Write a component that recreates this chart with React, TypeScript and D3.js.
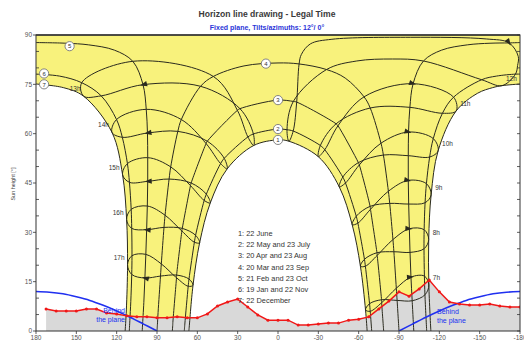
import { useEffect, useRef } from 'react'
import * as d3 from 'd3'

type Pt = [number, number]

const W = 524
const H = 342
const M = { top: 35, right: 4, bottom: 11, left: 36 }
const IW = W - M.left - M.right
const IH = H - M.top - M.bottom
const FONT = '"Liberation Sans", Arial, sans-serif'

const X_TICKS = [180, 150, 120, 90, 60, 30, 0, -30, -60, -90, -120, -150, -180]
const Y_TICKS = [0, 15, 30, 45, 60, 75, 90]

const LEGEND = [
  '1: 22 June',
  '2: 22 May and 23 July',
  '3: 20 Apr and 23 Aug',
  '4: 20 Mar and 23 Sep',
  '5: 21 Feb and 23 Oct',
  '6: 19 Jan and 22 Nov',
  '7: 22 December',
]
const HOUR_NAMES = ['7h', '8h', '9h', '10h', '11h', '12h', '13h', '14h', '15h', '16h', '17h', '18h']

// sun position [azimuth °, height °] at 7h, 8h … 18h legal time
const JUN22: Pt[] = [[-65.1, 6.4], [-61.3, 19.7], [-55.2, 32.3], [-45.6, 43.8], [-30.0, 53.0], [-8.1, 57.7], [18.1, 56.4], [37.8, 49.3], [50.4, 38.9], [58.3, 26.8], [63.2, 13.9], [66.2, 0.4]]
const JUL23: Pt[] = [[-68.6, 6.0], [-65.0, 19.7], [-59.4, 32.8], [-50.2, 45.0], [-34.8, 55.1], [-11.3, 60.8], [18.3, 59.9], [40.0, 52.5], [53.3, 41.6], [61.3, 29.1], [66.2, 15.8], [69.3, 2.1]]
const MAY22: Pt[] = [[-68.1, 8.3], [-64.3, 21.8], [-58.2, 34.9], [-48.2, 46.8], [-31.5, 56.4], [-6.7, 61.2], [22.4, 59.0], [42.7, 50.9], [54.9, 39.7], [62.2, 27.0], [66.8, 13.6], [69.7, -0.2]]
const AUG23: Pt[] = [[-77.1, 8.6], [-73.8, 23.0], [-68.8, 37.0], [-60.5, 50.5], [-44.6, 62.4], [-13.9, 69.6], [28.3, 67.6], [52.6, 57.7], [64.6, 45.0], [71.2, 31.2], [75.4, 17.0], [78.2, 2.6]]
const APR20: Pt[] = [[-77.0, 9.5], [-73.6, 23.8], [-68.5, 37.9], [-59.8, 51.2], [-43.2, 63.0], [-11.4, 69.8], [30.2, 67.1], [53.5, 57.0], [65.1, 44.2], [71.5, 30.4], [75.5, 16.2], [78.3, 1.7]]
const SEP23: Pt[] = [[-88.0, 13.0], [-85.5, 27.8], [-82.1, 42.5], [-76.6, 57.1], [-64.0, 71.2], [-15.7, 81.2], [57.6, 74.4], [74.5, 60.7], [81.0, 46.2], [84.8, 31.5], [87.4, 16.7], [89.7, 1.9]]
const MAR20: Pt[] = [[-88.6, 9.3], [-86.2, 24.1], [-83.1, 38.8], [-78.4, 53.5], [-68.6, 67.8], [-36.1, 79.5], [48.1, 77.4], [71.9, 64.3], [79.8, 49.9], [84.0, 35.2], [86.8, 20.4], [89.2, 5.6]]
const OCT23: Pt[] = [[-98.9, 16.4], [-97.7, 31.1], [-96.9, 45.8], [-97.1, 60.5], [-100.5, 75.2], [-171.9, 87.6], [100.4, 74.9], [97.1, 60.2], [96.9, 45.5], [97.7, 30.8], [99.0, 16.1], [100.8, 1.5]]
const FEB21: Pt[] = [[-99.8, 9.2], [-98.2, 23.9], [-97.2, 38.6], [-96.9, 53.3], [-98.1, 68.0], [-108.2, 82.1], [108.0, 82.0], [98.0, 67.4], [96.9, 52.7], [97.2, 38.0], [98.3, 23.3], [99.8, 8.6]]
const NOV22: Pt[] = [[-108.9, 16.7], [-108.7, 30.8], [-110.4, 44.8], [-115.5, 58.5], [-130.6, 71.1], [-176.6, 78.1], [131.5, 71.5], [115.8, 58.9], [110.5, 45.2], [108.8, 31.2], [108.8, 17.2], [110.2, 3.2]]
const JAN19: Pt[] = [[-109.3, 11.0], [-108.6, 25.0], [-109.4, 39.0], [-112.8, 52.9], [-122.3, 66.2], [-151.5, 76.4], [146.0, 75.5], [120.1, 64.3], [112.0, 50.9], [109.2, 37.0], [108.6, 22.9], [109.5, 8.9]]
const DEC22: Pt[] = [[-112.2, 14.0], [-112.1, 27.8], [-113.9, 41.4], [-119.1, 54.8], [-132.5, 66.9], [-166.6, 74.6], [144.6, 71.4], [123.5, 60.4], [115.6, 47.5], [112.6, 33.9], [111.9, 20.2], [112.8, 6.4]]

// loop order through the year, June → May
const LOOP_DATES = [JUN22, JUL23, AUG23, SEP23, OCT23, NOV22, DEC22, JAN19, FEB21, MAR20, APR20, MAY22]

// 12h passes near the zenith, so its loop has a few more dates
const NOON_LOOP: Pt[] = [[-8.1, 57.7], [-11.3, 60.8], [-13.9, 69.6], [-15.7, 81.2], [-17.4, 84.1], [-24.1, 87.3], [-40.1, 88.7], [-98.4, 89.3], [-154.9, 88.8], [-171.9, 87.6], [-178.7, 83.5], [-178.2, 80.7], [-176.6, 78.1], [-166.6, 74.6], [-151.5, 76.4], [-108.2, 82.1], [-85.1, 82.7], [-58.6, 82.1], [-36.1, 79.5], [-11.4, 69.8], [-6.7, 61.2]]

// date curves 1..7: sunrise / sunset azimuths and extra points [slot, az, h] near noon
const SUNRISE = [-66.3, -69.7, -78.6, -90.0, -101.0, -110.6, -113.7]
const SUNSET = [66.3, 69.7, 78.6, 90.0, 101.0, 110.6, 113.7]
const C1_EXTRA = [[10.5, 0, 58.1]]
const C2_EXTRA = [[11.5, 0, 61.4]]
const C3_EXTRA = [[11.5, 0, 70.2]]
const C4_EXTRA = [[9.5, -50.0, 76.9], [11.3, 0, 81.5], [11.6, 25.3, 80.6]]
const C5_EXTRA = [[10.2, -121.7, 85.4], [10.4, -140.8, 87.0], [10.6, -157.7, 87.5], [11.3, -180, 87.7], [11.4, 180, 87.7], [11.5, 157.7, 87.5], [11.6, 140.8, 87.0], [11.7, 121.7, 85.4]]
const C6_EXTRA = [[10.5, -162.4, 77.5], [11.3, -180, 78.1], [11.4, 180, 78.1], [11.6, 162.4, 77.5]]
const C7_EXTRA = [[9, -148.5, 72.3], [9.5, -159.7, 74.0], [10.3, -180, 75.1], [10.4, 180, 75.1], [10.6, 159.7, 74.0]]

// curve number badges
const BADGE_POS: Pt[] = [[0, 58.1], [0, 61.4], [0, 70.2], [9, 81.3], [155, 86.6], [174, 78.3], [174, 75.0]]

// far horizon
const HORIZON_AZ = [172.5, 165, 157.5, 150, 142.5, 135, 127.5, 120, 112.5, 105, 97.5, 90, 82.5, 75, 67.5, 60, 52.5, 45, 37.5, 30, 22.5, 15, 7.5, 0, -7.5, -15, -22.5, -30, -37.5, -45, -52.5, -60, -67.5, -75, -82.5, -90, -97.5, -105, -112.5, -120, -127.5, -135, -142.5, -150, -157.5, -165, -172.5, -180]
const HORIZON_H = [6.7, 6.1, 6.1, 6.1, 6.7, 6.7, 5.5, 5.2, 4.6, 4.3, 4.3, 4.0, 4.0, 4.3, 4.0, 4.0, 5.2, 7.6, 8.8, 9.7, 7.3, 4.9, 3.3, 3.3, 3.3, 1.8, 1.8, 2.1, 2.4, 2.4, 3.3, 3.6, 4.3, 6.7, 9.1, 11.9, 10.6, 12.8, 15.5, 11.9, 8.8, 8.2, 7.9, 7.9, 8.2, 7.6, 7.3, 7.3]

// limit "behind the plane"
const BEHIND_AZ_L = [180, 170, 160, 150, 140, 130, 120, 110, 100, 90]
const BEHIND_AZ_R = [-90, -100, -110, -120, -130, -140, -150, -160, -170, -180]
const BEHIND_H_L = [12.0, 11.8, 11.3, 10.4, 9.3, 7.8, 6.1, 4.2, 2.1, 0]
const BEHIND_H_R = [0, 2.1, 4.2, 6.1, 7.8, 9.3, 10.4, 11.3, 11.8, 12.0]

function splitWrap(pts: Pt[]): Pt[][] {
  const segs: Pt[][] = [[pts[0]]]
  for (let i = 1; i < pts.length; i++) {
    if (Math.abs(pts[i][0] - pts[i - 1][0]) > 180) segs.push([])
    segs[segs.length - 1].push(pts[i])
  }
  return segs
}

function buildCurve(a: Pt[], b: Pt[] | null, extra: number[][], rise: number, set: number): Pt[] {
  const items: { s: number; p: Pt }[] = [{ s: -1, p: [rise, 0] }, { s: 99, p: [set, 0] }]
  a.forEach((p, i) => items.push({ s: 2 * i, p }))
  if (b) b.forEach((p, i) => items.push({ s: 2 * i + 1, p }))
  extra.forEach((e) => items.push({ s: e[0], p: [e[1], e[2]] }))
  return items.filter((d) => d.p[1] >= 0).sort((u, v) => u.s - v.s).map((d) => d.p)
}

export default function App() {
  const svgRef = useRef<SVGSVGElement>(null)

  useEffect(() => {
    const svg = d3.select(svgRef.current)
    svg.selectAll('*').remove()

    const x = d3.scaleLinear().domain([180, -180]).range([M.left, M.left + IW])
    const y = d3.scaleLinear().domain([0, 90]).range([M.top + IH, M.top])
    const line = d3.line<Pt>().x((d) => x(d[0])).y((d) => y(d[1])).curve(d3.curveCatmullRom.alpha(0.5))
    const loop = d3.line<Pt>().x((d) => x(d[0])).y((d) => y(d[1])).curve(d3.curveCatmullRomClosed.alpha(0.5))

    svg.append('rect').attr('width', W).attr('height', H).attr('fill', '#fff')

    // ── titles ──
    svg.append('text').attr('x', 267).attr('y', 17).attr('text-anchor', 'middle')
      .attr('font-family', FONT).attr('font-size', 8.6).attr('font-weight', 700).attr('fill', '#3a3a3a')
      .text('Horizon line drawing - Legal Time')
    svg.append('text').attr('x', 267).attr('y', 30).attr('text-anchor', 'middle')
      .attr('font-family', FONT).attr('font-size', 7).attr('font-weight', 700).attr('fill', '#2b35d8')
      .text('Fixed plane, Tilts/azimuths: 12°/ 0°')

    svg.append('defs').append('clipPath').attr('id', 'plot')
      .append('rect').attr('x', M.left).attr('y', M.top).attr('width', IW).attr('height', IH)
    const g = svg.append('g').attr('clip-path', 'url(#plot)')

    const curves = [
      buildCurve(JUN22, null, C1_EXTRA, SUNRISE[0], SUNSET[0]),
      buildCurve(JUL23, MAY22, C2_EXTRA, SUNRISE[1], SUNSET[1]),
      buildCurve(AUG23, APR20, C3_EXTRA, SUNRISE[2], SUNSET[2]),
      buildCurve(MAR20, SEP23, C4_EXTRA, SUNRISE[3], SUNSET[3]),
      buildCurve(FEB21, OCT23, C5_EXTRA, SUNRISE[4], SUNSET[4]),
      buildCurve(JAN19, NOV22, C6_EXTRA, SUNRISE[5], SUNSET[5]),
      buildCurve(DEC22, null, C7_EXTRA, SUNRISE[6], SUNSET[6]),
    ]

    // ── yellow sun area between 22 June and 22 December ──
    const [decAm, decPm] = splitWrap(curves[6])
    const join = (s: string | null) => (s ?? '').replace(/^M/, 'L')
    const area = `M${x(180)},${y(90)}` + join(line(decPm)) + join(line([...curves[0]].reverse()))
      + join(line(decAm)) + `L${x(-180)},${y(90)}Z`
    g.append('path').attr('d', area).attr('fill', '#f8f27c')

    // ── horizon (grey) ──
    const hor: Pt[] = HORIZON_AZ.map((a, i) => [a, HORIZON_H[i]])
    g.append('path').datum(hor)
      .attr('d', d3.area<Pt>().x((d) => x(d[0])).y0(y(0)).y1((d) => y(d[1])))
      .attr('fill', '#d9d9d9')

    // ── date curves ──
    curves.forEach((c) => {
      splitWrap(c).forEach((seg) => {
        g.append('path').attr('d', line(seg)).attr('fill', 'none')
          .attr('stroke', '#2a2a1e').attr('stroke-width', 1)
      })
    })

    // ── hour loops ──
    const loops: Pt[][] = HOUR_NAMES.slice(0, 11).map((_, i) =>
      i === 5 ? NOON_LOOP : LOOP_DATES.map((d) => d[i]))
    loops.forEach((pts) => {
      g.append('path').attr('d', loop(pts)).attr('fill', 'none')
        .attr('stroke', '#2a2a1e').attr('stroke-width', 1)
      const k = pts === NOON_LOOP ? 9 : 4
      const p = pts[k], q = pts[(k + 1) % pts.length]
      const ang = Math.atan2(y(q[1]) - y(p[1]), x(q[0]) - x(p[0])) * 180 / Math.PI
      g.append('path').attr('d', 'M3,0 L-4,-2.6 L-4,2.6 Z')
        .attr('transform', `translate(${x(p[0])},${y(p[1])}) rotate(${ang})`)
        .attr('fill', '#2a2a1e')
    })

    // ── behind the plane ──
    ;[[BEHIND_AZ_L, BEHIND_H_L], [BEHIND_AZ_R, BEHIND_H_R]].forEach(([az, h]) => {
      const pts: Pt[] = az.map((a, i) => [a, h[i]])
      g.append('path').attr('d', d3.line<Pt>().x((d) => x(d[0])).y((d) => y(d[1])).curve(d3.curveMonotoneX)(pts))
        .attr('fill', 'none').attr('stroke', '#2030f0').attr('stroke-width', 1.6)
    })

    // ── horizon line ──
    g.append('path').datum(hor)
      .attr('d', d3.line<Pt>().x((d) => x(d[0])).y((d) => y(d[1])))
      .attr('fill', 'none').attr('stroke', '#f01818').attr('stroke-width', 1.5)
    g.selectAll('circle.hz').data(hor).enter().append('circle')
      .attr('cx', (d) => x(d[0])).attr('cy', (d) => y(d[1])).attr('r', 1.5).attr('fill', '#f01818')

    // ── texts in the plot ──
    const txt = (tx: number, ty: number, s: string, anchor: string, size: number, fill: string) =>
      svg.append('text').attr('x', tx).attr('y', ty).attr('text-anchor', anchor)
        .attr('font-family', FONT).attr('font-size', size).attr('fill', fill).text(s)

    HOUR_NAMES.slice(0, 11).forEach((hn, i) => {
      const p = DEC22[i]
      const left = p[0] > 0
      txt(x(p[0]) + (left ? -3 : 4), y(p[1]) - 5, hn, left ? 'end' : 'start', 6.5, '#333')
    })

    BADGE_POS.forEach((p, i) => {
      svg.append('circle').attr('cx', x(p[0])).attr('cy', y(p[1])).attr('r', 4.6)
        .attr('fill', '#fff').attr('stroke', '#777').attr('stroke-width', 0.9)
      txt(x(p[0]), y(p[1]) + 2.2, String(i + 1), 'middle', 6, '#333')
    })

    LEGEND.forEach((s, i) => txt(238, 236 + i * 11.2, s, 'start', 7.4, '#333'))

    txt(125, 313, 'Behind', 'end', 7, '#2030f0')
    txt(125, 322, 'the plane', 'end', 7, '#2030f0')
    txt(437, 314, 'Behind', 'start', 7, '#2030f0')
    txt(437, 323, 'the plane', 'start', 7, '#2030f0')

    // ── frame & axes ──
    svg.append('rect').attr('x', M.left).attr('y', M.top).attr('width', IW).attr('height', IH)
      .attr('fill', 'none').attr('stroke', '#333').attr('stroke-width', 1)
    svg.append('line').attr('x1', M.left).attr('x2', M.left + IW).attr('y1', M.top).attr('y2', M.top)
      .attr('stroke', '#333').attr('stroke-width', 1.6)

    d3.range(0, 91, 5).forEach((v) => {
      const major = v % 15 === 0
      svg.append('line').attr('x1', M.left - (major ? 3 : 0)).attr('x2', M.left + (major ? 0 : 3))
        .attr('y1', y(v)).attr('y2', y(v)).attr('stroke', '#333').attr('stroke-width', 0.8)
      svg.append('line').attr('x1', M.left + IW - 3).attr('x2', M.left + IW)
        .attr('y1', y(v)).attr('y2', y(v)).attr('stroke', '#333').attr('stroke-width', 0.8)
    })
    Y_TICKS.forEach((v) => txt(M.left - 4, y(v) + 2.3, String(v), 'end', 6.5, '#555'))
    X_TICKS.forEach((v) => {
      svg.append('line').attr('x1', x(v)).attr('x2', x(v)).attr('y1', M.top + IH).attr('y2', M.top + IH + 3)
        .attr('stroke', '#333').attr('stroke-width', 0.8)
      txt(x(v), M.top + IH + 9, String(v), 'middle', 6.5, '#555')
    })

    svg.append('text').attr('transform', `translate(15,184) rotate(-90)`).attr('text-anchor', 'middle')
      .attr('font-family', FONT).attr('font-size', 5.5).attr('fill', '#444').text('Sun height [°]')
  }, [])

  return (
    <svg ref={svgRef} width={W} height={H}
      style={{ position: 'absolute', left: 0, top: 0, display: 'block' }} />
  )
}
